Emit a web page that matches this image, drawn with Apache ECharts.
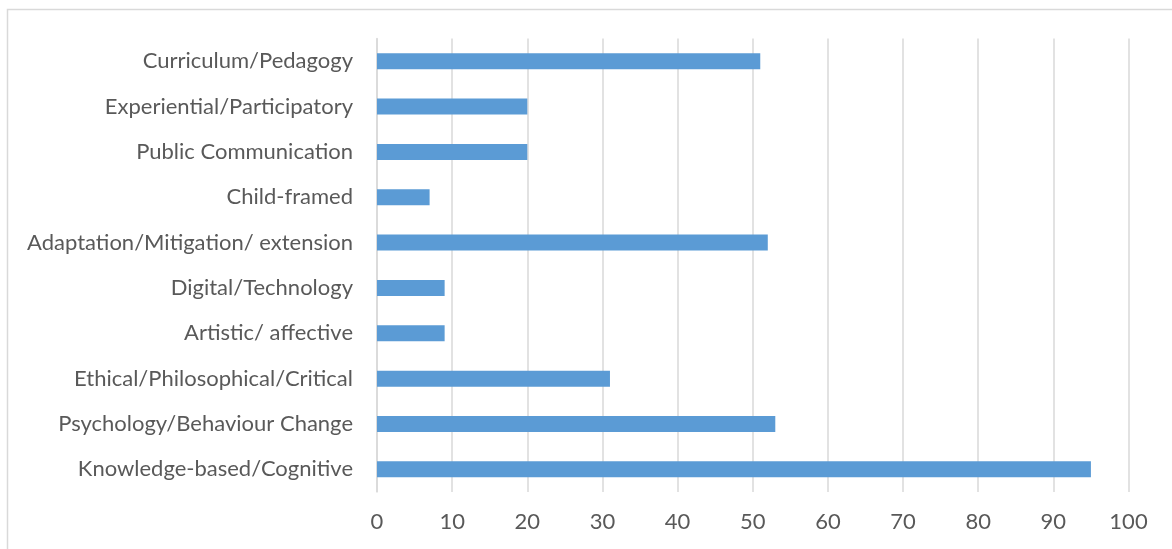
<!DOCTYPE html>
<html>
<head>
<meta charset="utf-8">
<script src="https://cdn.jsdelivr.net/npm/echarts@6/dist/echarts.min.js"></script>
<style>
  html, body { margin: 0; padding: 0; background: #ffffff; }
  #chart { width: 1172px; height: 549px; }
</style>
</head>
<body>
<div id="chart"></div>
<script>
// Categories listed bottom to top, as the category axis draws them
const categories = [
  'Knowledge-based/Cognitive',
  'Psychology/Behaviour Change',
  'Ethical/Philosophical/Critical',
  'Artistic/ affective',
  'Digital/Technology',
  'Adaptation/Mitigation/ extension',
  'Child-framed',
  'Public Communication',
  'Experiential/Participatory',
  'Curriculum/Pedagogy'
];
const counts = [95, 53, 31, 9, 9, 52, 7, 20, 20, 51];
const axisMin = 0;
const axisMax = 100;
const axisStep = 10;

const textColor = '#595959';
const fontFamily = 'Lato, "Open Sans", sans-serif';

const chart = echarts.init(document.getElementById('chart'), null, { renderer: 'canvas' });
chart.setOption({
  animation: false,
  backgroundColor: '#ffffff',
  graphic: [{
    type: 'rect',
    shape: { x: 7.5, y: 9.5, width: 1170, height: 560 },
    style: { fill: 'none', stroke: '#d9d9d9', lineWidth: 1.5 },
    silent: true
  }],
  grid: { left: 377, right: 43.5, top: 38.5, bottom: 57, containLabel: false },
  xAxis: {
    type: 'value',
    min: axisMin,
    max: axisMax,
    interval: axisStep,
    axisLine: { show: false },
    axisTick: { show: false },
    splitLine: { show: true, lineStyle: { color: '#d9d9d9', width: 1.5 } },
    axisLabel: { color: textColor, fontSize: 22, fontFamily: fontFamily, margin: 19 }
  },
  yAxis: {
    type: 'category',
    data: categories,
    axisLine: { show: true, lineStyle: { color: '#d9d9d9', width: 1.5 } },
    axisTick: { show: false },
    splitLine: { show: false },
    axisLabel: { color: textColor, fontSize: 22, fontFamily: fontFamily, margin: 24 }
  },
  series: [{
    type: 'bar',
    data: counts,
    barWidth: 16,
    itemStyle: { color: '#5b9bd5' }
  }]
});
</script>
</body>
</html>
